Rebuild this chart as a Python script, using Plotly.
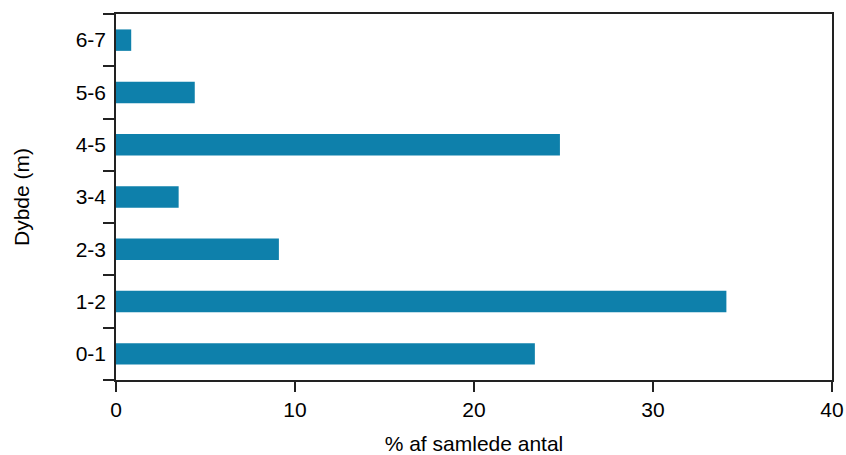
import plotly.graph_objects as go

categories = ["0-1", "1-2", "2-3", "3-4", "4-5", "5-6", "6-7"]
values = [23.4, 34.1, 9.1, 3.5, 24.8, 4.4, 0.85]
x_ticks = [0, 10, 20, 30, 40]

fig = go.Figure(go.Bar(
    x=values, y=categories, orientation="h",
    marker=dict(color="#0E80AB", line=dict(width=0)),
    width=0.41,
))

font = dict(family="Liberation Sans, Arial, sans-serif", size=21, color="#000")
fig.update_layout(
    width=846, height=455,
    margin=dict(l=116, r=14, t=14, b=75, autoexpand=False),
    plot_bgcolor="white", paper_bgcolor="white",
    font=font,
    showlegend=False,
    xaxis=dict(
        range=[0, 40], tickvals=x_ticks, ticks="outside", ticklen=10,
        tickcolor="#222", tickwidth=1.5,
        showline=True, linecolor="#222", linewidth=1.5, mirror=True,
        showgrid=False, zeroline=False, automargin=True,
        title=dict(text="% af samlede antal", font=font, standoff=29),
        tickfont=font,
    ),
    yaxis=dict(
        type="category", categoryorder="array", categoryarray=categories,
        range=[-0.5, 6.5],
        ticks="outside", tickson="boundaries", ticklen=11,
        tickcolor="#222", tickwidth=1.5,
        showline=True, linecolor="#222", linewidth=1.5, mirror=True,
        showgrid=False, zeroline=False, automargin=True,
        ticklabelstandoff=4,
        title=dict(text="Dybde (m)", font=font, standoff=40),
        tickfont=font,
    ),
)

fig.write_html("out.html", config={"displayModeBar": False},
               post_script="document.body.style.margin='0';")
